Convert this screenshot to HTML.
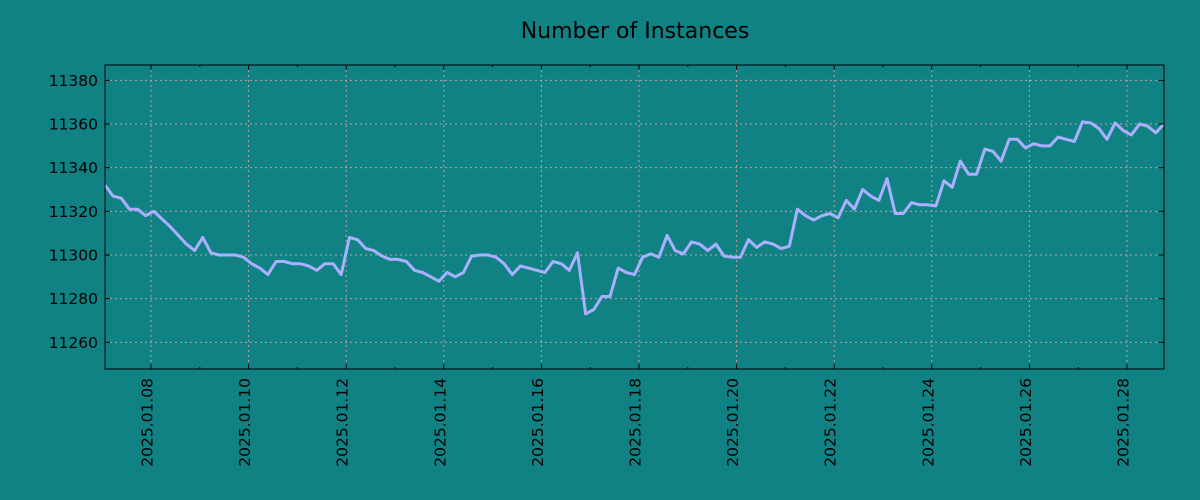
<!DOCTYPE html>
<html><head><meta charset="utf-8"><style>
html,body{margin:0;padding:0;background:#118284;}
svg{display:block;font-family:"DejaVu Sans","Liberation Sans",sans-serif;}
</style></head><body>
<svg id="chart" width="1200" height="500">
<rect width="1200" height="500" fill="#118284"/>
<text x="635" y="38" font-size="22" text-anchor="middle" fill="#000">Number of Instances</text>
<g id="grid"></g><g id="series"></g><g id="axes"></g>
</svg>
<script>
const values=[11332,11327,11326,11321,11321,11318,11320,11316.5,11313,11309,11305,11302,11308,11301,11300,11300,11300,11299,11296,11294,11291,11297,11297,11296,11296,11295,11293,11296,11296,11291,11308,11307,11303,11302,11299.5,11298,11298,11297,11293,11292,11290,11288,11292,11290,11292,11299.5,11300,11300,11299,11296,11291,11295,11294,11293,11292,11297,11296,11293,11301,11273,11275,11281,11281,11294,11292,11291,11299,11300.5,11299,11309,11302,11300.5,11306,11305,11302,11305,11299.5,11299,11299,11307,11303.5,11306,11305,11303,11304,11321,11318,11316,11318,11319,11317,11325,11321,11330,11327,11325,11335,11319,11319,11324,11323,11323,11322.5,11334,11331,11343,11337,11337,11348.5,11347.5,11343,11353,11353,11349,11351,11350,11350,11354,11353,11352,11361,11360.5,11358,11353,11360.5,11357,11355,11360,11359,11356,11360];
const yTicks=[11260,11280,11300,11320,11340,11360,11380];
const xTickLabels=["2025.01.08","2025.01.10","2025.01.12","2025.01.14","2025.01.16","2025.01.18","2025.01.20","2025.01.22","2025.01.24","2025.01.26","2025.01.28"];
const startDay=-0.943, endDay=20.758; // days relative to 2025.01.08
const L=105,R=1164,T=65,B=369;
const NS="http://www.w3.org/2000/svg";
const ys=v=>255-(v-11300)*2.183;
const xd=d=>151+d*48.8;
function mk(tag,attrs,parent){const e=document.createElementNS(NS,tag);for(const k in attrs)e.setAttribute(k,attrs[k]);parent.appendChild(e);return e;}
const grid=document.getElementById('grid'),axes=document.getElementById('axes'),series=document.getElementById('series');
yTicks.forEach(v=>{const y=ys(v);
 const g=mk('line',{x1:L,x2:R,y1:y,y2:y,stroke:'#c0a0a0','stroke-dasharray':'2,3','stroke-width':1},grid);
 
 
 mk('line',{x1:L,x2:L+5,y1:y,y2:y,stroke:'#000'},axes);
 mk('line',{x1:R,x2:R-5,y1:y,y2:y,stroke:'#000'},axes);
 const t=mk('text',{x:98,y:y+5.5,'font-size':15.5,'text-anchor':'end',fill:'#000'},axes);t.textContent=v;
 
 
});
for(let d=-0;d<=20;d++){const x=xd(d);
 mk('line',{x1:x,x2:x,y1:B,y2:B-(d%2?2:5),stroke:'#000'},axes);
 mk('line',{x1:x,x2:x,y1:T,y2:T+(d%2?2:5),stroke:'#000'},axes);}
xTickLabels.forEach((s,i)=>{const x=xd(i*2);
 const g=mk('line',{x1:x,x2:x,y1:T,y2:B,stroke:'#c0a0a0','stroke-dasharray':'2,3','stroke-width':1},grid);
 
 
 const t=mk('text',{x:0,y:0,'font-size':15.5,'text-anchor':'end',fill:'#000',transform:`translate(${x+1.5},378) rotate(-90)`},axes);t.textContent=s;
 
 
});
const n=values.length;
const pts=values.map((v,i)=>{const d=startDay+(endDay-startDay)*i/(n-1);return xd(d).toFixed(1)+','+ys(v).toFixed(1);}).join(' ');
const pl=mk('polyline',{points:pts,fill:'none',stroke:'#aab0ff','stroke-width':3,'stroke-linejoin':'round'},series);


const fr=mk('rect',{x:L,y:T,width:R-L,height:B-T,fill:'none',stroke:'#000','stroke-width':1},axes);


</script>
</body></html>
